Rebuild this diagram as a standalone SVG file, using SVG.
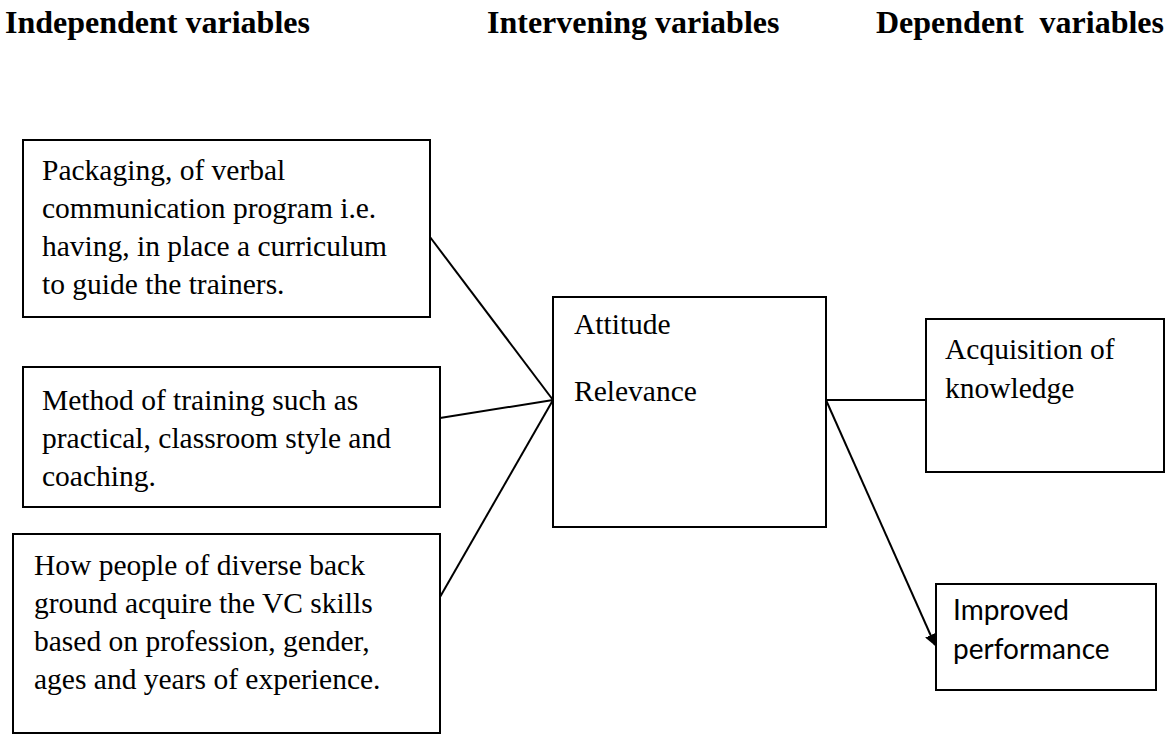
<svg xmlns="http://www.w3.org/2000/svg" width="1168" height="735" viewBox="0 0 1168 735">
<style>
.box{fill:#fff;stroke:#000;stroke-width:2}
.t{font-family:"Liberation Serif","Times New Roman",serif;font-size:29.5px;fill:#000}
.h{font-family:"Liberation Serif","Times New Roman",serif;font-size:32px;font-weight:bold;fill:#000}
.s{font-family:Lato,"Liberation Sans",sans-serif;font-size:28px;fill:#000}
.c{stroke:#000;stroke-width:2;fill:none}
</style>
<defs>
<marker id="ah" viewBox="0 0 10 10" refX="9" refY="5" markerWidth="6" markerHeight="6" orient="auto" markerUnits="strokeWidth">
<path d="M0,0 L10,5 L0,10 z" fill="#000"/>
</marker>
</defs>
<rect width="1168" height="735" fill="#fff"/>
<g id="headers">
<text class="h" x="5" y="33">Independent variables</text>
<text class="h" x="487" y="33">Intervening variables</text>
<text class="h" x="876" y="33" xml:space="preserve">Dependent  variables</text>
</g>
<g id="connectors">
<line class="c" x1="430" y1="237" x2="553" y2="400"/>
<line class="c" x1="440" y1="418" x2="553" y2="400"/>
<line class="c" x1="440" y1="597" x2="553" y2="400"/>
<line class="c" x1="826" y1="400" x2="926" y2="400"/>
<line class="c" x1="826" y1="400" x2="935" y2="645" marker-end="url(#ah)"/>
</g>
<g id="node-packaging">
<rect class="box" x="23" y="140" width="407" height="177"/>
<text class="t" x="42" y="180">Packaging, of verbal</text>
<text class="t" x="42" y="218">communication program i.e.</text>
<text class="t" x="42" y="256">having, in place a curriculum</text>
<text class="t" x="42" y="294">to guide the trainers.</text>
</g>
<g id="node-method">
<rect class="box" x="23" y="367" width="417" height="140"/>
<text class="t" x="42" y="410">Method of training such as</text>
<text class="t" x="42" y="448">practical, classroom style and</text>
<text class="t" x="42" y="486">coaching.</text>
</g>
<g id="node-people">
<rect class="box" x="13" y="534" width="427" height="199"/>
<text class="t" x="34" y="575">How people of diverse back</text>
<text class="t" x="34" y="613">ground acquire the VC skills</text>
<text class="t" x="34" y="651">based on profession, gender,</text>
<text class="t" x="34" y="689">ages and years of experience.</text>
</g>
<g id="node-intervening">
<rect class="box" x="553" y="297" width="273" height="230"/>
<text class="t" x="574" y="334">Attitude</text>
<text class="t" x="574" y="401">Relevance</text>
</g>
<g id="node-acquisition">
<rect class="box" x="926" y="319" width="238" height="153"/>
<text class="t" x="945" y="359">Acquisition of</text>
<text class="t" x="945" y="398">knowledge</text>
</g>
<g id="node-improved">
<rect class="box" x="936" y="584" width="220" height="106"/>
<text class="s" x="953" y="620">Improved</text>
<text class="s" x="953" y="659">performance</text>
</g>
</svg>
